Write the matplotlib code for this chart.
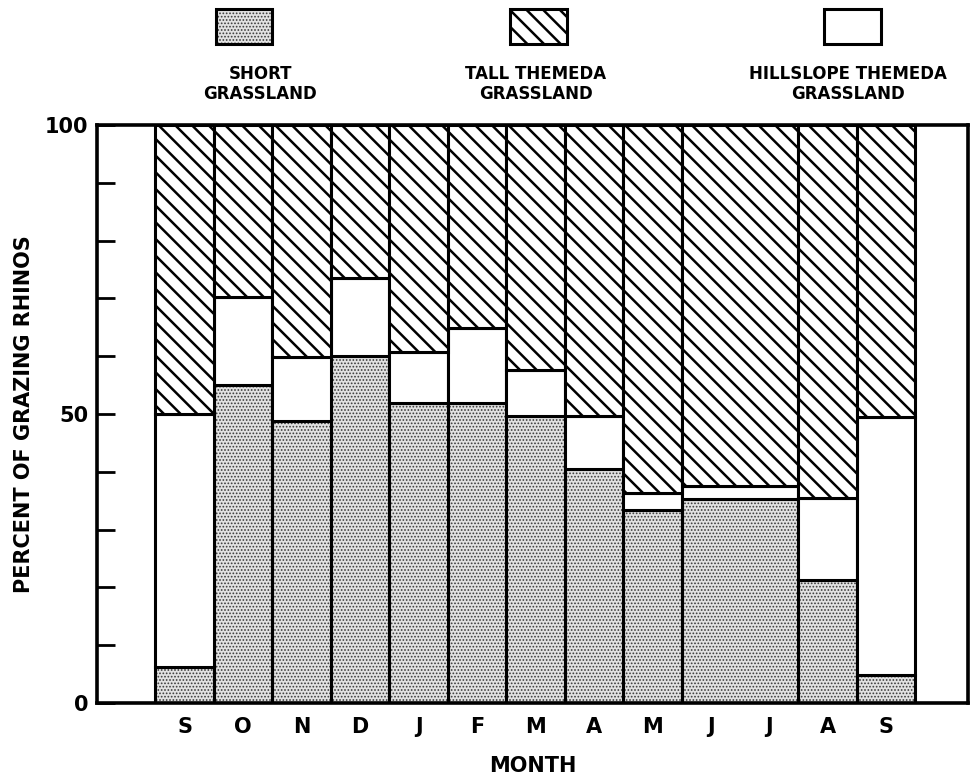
import matplotlib.pyplot as plt
import matplotlib.patches as mpatches
import numpy as np

# month labels along the x axis
months = ['S', 'O', 'N', 'D', 'J', 'F', 'M', 'A', 'M', 'J', 'J', 'A', 'S']
# bars (June and July pooled into one wide bar)
bar_width = [1, 1, 1, 1, 1, 1, 1, 1, 1, 2, 1, 1]
short = np.array([6.2, 55.0, 48.8, 60.0, 51.9, 51.9, 49.7, 40.5, 33.4, 35.3, 21.3, 4.8])
hillslope = np.array([43.8, 15.2, 11.1, 13.5, 8.8, 13.0, 7.9, 9.2, 2.9, 2.2, 14.2, 44.7])
tall = 100 - short - hillslope

plt.rcParams['font.family'] = 'DejaVu Sans'
plt.rcParams['font.weight'] = 'bold'

fig = plt.figure(figsize=(9.72, 7.8), dpi=100)
ax = fig.add_axes([0.0998, 0.0987, 0.8961, 0.741])

left = 1 + np.concatenate([[0], np.cumsum(bar_width)[:-1]])
lw = 2.2
# stipple = grey dots drawn under a plain black outline
dots_style = dict(facecolor='#e2e2e2', edgecolor='#3a3a3a', hatch='.....', linewidth=0)
outline = dict(facecolor='none', edgecolor='black', linewidth=lw)
tall_style = dict(facecolor='white', edgecolor='black', hatch='\\\\', linewidth=lw)
hill_style = dict(facecolor='white', edgecolor='black', linewidth=lw)


def set_hlw(artists, w):
    for a in artists:
        if hasattr(a, 'set_hatch_linewidth'):
            a.set_hatch_linewidth(w)


with plt.rc_context({'hatch.linewidth': 0.8}):
    b = ax.bar(left, short, width=bar_width, align='edge', **dots_style)
    set_hlw(b, 0.8)
ax.bar(left, short, width=bar_width, align='edge', **outline)
ax.bar(left, hillslope, bottom=short, width=bar_width, align='edge', **hill_style)
with plt.rc_context({'hatch.linewidth': 1.8}):
    b = ax.bar(left, tall, bottom=short + hillslope, width=bar_width, align='edge', **tall_style)
    set_hlw(b, 1.8)

ax.set_xlim(0, 14.9)
ax.set_ylim(0, 100)

# month ticks (centre of each month)
ax.set_xticks(np.arange(len(months)) + 1.5)
ax.set_xticklabels(months, fontsize=15, fontweight='bold')
ax.tick_params(axis='x', length=0, pad=10)

ax.set_yticks(np.arange(0, 101, 10))
ax.set_yticklabels(['0' if v == 0 else '50' if v == 50 else '100' if v == 100 else '' for v in range(0, 101, 10)],
                   fontsize=15, fontweight='bold')
ax.tick_params(axis='y', direction='in', length=13, width=2, pad=6)

for s in ax.spines.values():
    s.set_linewidth(2.6)

ax.set_xlabel('MONTH', fontsize=15, fontweight='bold', labelpad=14)
ax.set_ylabel('PERCENT OF GRAZING RHINOS', fontsize=15, fontweight='bold', labelpad=8)

# legend boxes across the top
legend = [
    ((0.222, 0.944), 'SHORT\nGRASSLAND', 0.268, 'short'),
    ((0.525, 0.944), 'TALL THEMEDA\nGRASSLAND', 0.551, 'tall'),
    ((0.848, 0.944), 'HILLSLOPE THEMEDA\nGRASSLAND', 0.872, 'hill'),
]
for (x0, y0), label, tx, kind in legend:
    if kind == 'short':
        with plt.rc_context({'hatch.linewidth': 0.8}):
            r = mpatches.Rectangle((x0, y0), 0.058, 0.045, transform=fig.transFigure, **dots_style)
            set_hlw([r], 0.8)
        fig.patches.append(r)
        r = mpatches.Rectangle((x0, y0), 0.058, 0.045, transform=fig.transFigure, **outline)
    elif kind == 'tall':
        with plt.rc_context({'hatch.linewidth': 1.8}):
            r = mpatches.Rectangle((x0, y0), 0.058, 0.045, transform=fig.transFigure, **tall_style)
            set_hlw([r], 1.8)
    else:
        r = mpatches.Rectangle((x0, y0), 0.058, 0.045, transform=fig.transFigure, **hill_style)
    fig.patches.append(r)
    fig.text(tx, 0.917, label, ha='center', va='top', fontsize=12, fontweight='bold',
             linespacing=1.15)

fig.savefig('out.png', dpi=100)
